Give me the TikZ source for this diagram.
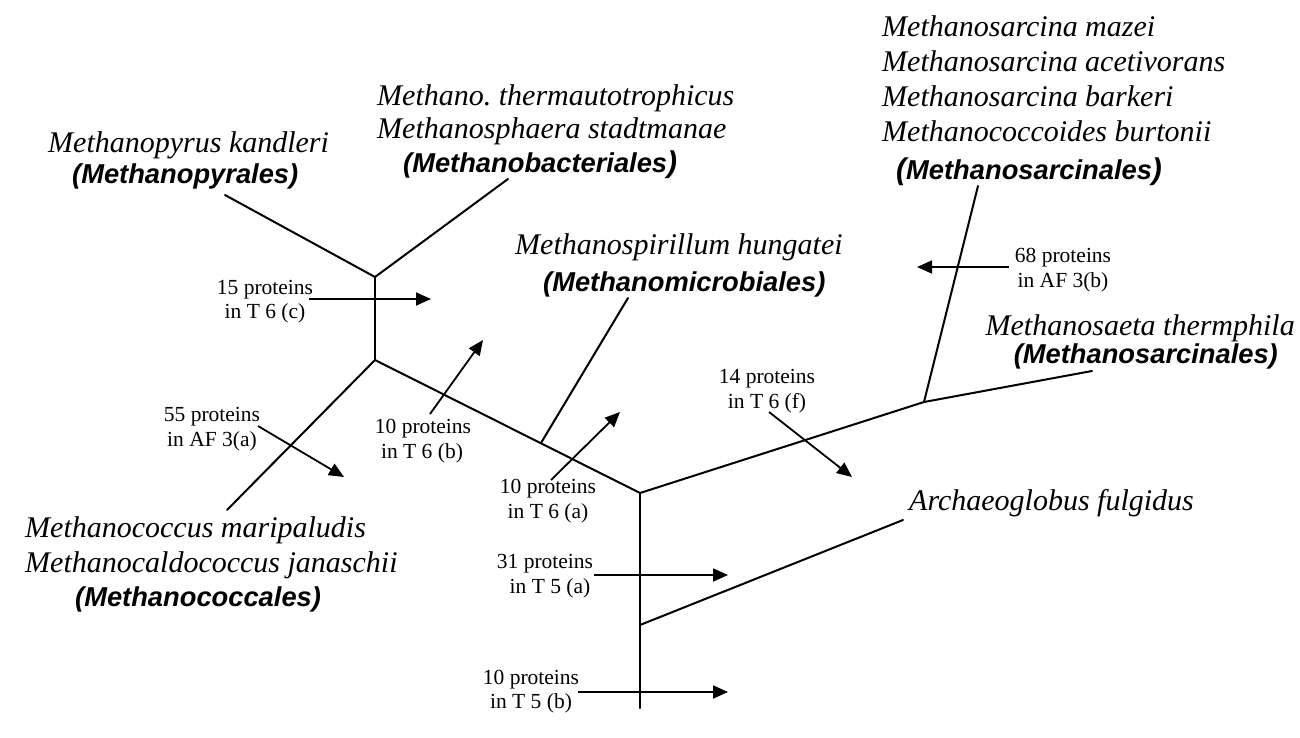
\documentclass[tikz,border=0pt]{standalone}
\usepackage{fontspec}
\setmainfont{Liberation Serif}
\newfontfamily\bsansfam{Liberation Sans}
\usetikzlibrary{arrows.meta}
\frenchspacing
\newcommand\mySp{\fontsize{30}{35}\selectfont\itshape}
\newcommand\myOrd{\fontsize{27.3}{32}\selectfont\bsansfam\bfseries\itshape}
\newcommand\myLbl{\fontsize{21.5}{25}\selectfont}
\tikzset{
  br/.style={line width=2pt, line cap=round},
  arr/.style={line width=1.8pt, -{Triangle[length=15pt,width=13pt]}},
  sp/.style={font=\mySp, inner sep=0pt},
  ord/.style={font=\myOrd, inner sep=0pt},
  lbl/.style={font=\myLbl, inner sep=0pt, anchor=base},
}
\begin{document}
\begin{tikzpicture}[x=1pt,y=-1pt]
\useasboundingbox[fill=white] (0,0) rectangle (1300,738);
% tree points
\coordinate (A) at (375,277);
\coordinate (B) at (375,360);
\coordinate (C) at (640,493);
\coordinate (D) at (541,443);
\coordinate (E) at (924,402);
\coordinate (F) at (640,625);
\coordinate (R) at (640,708);
\coordinate (lPyr) at (225,195);
\coordinate (lBac) at (508,179);
\coordinate (lCoc) at (227,510);
\coordinate (lMic) at (628,298);
\coordinate (lSar) at (978,186);
\coordinate (lSae) at (1092,371);
\coordinate (lArc) at (903,520);
% branches
\draw[br] (lPyr) -- (A) -- (lBac);
\draw[br] (A) -- (B);
\draw[br] (lCoc) -- (B) -- (C);
\draw[br] (D) -- (lMic);
\draw[br] (C) -- (E) -- (lSae);
\draw[br] (E) -- (lSar);
\draw[br] (C) -- (R);
\draw[br] (F) -- (lArc);
% species labels
\node[sp, anchor=base west] (t1) at (48,153) {Methanopyrus kandleri};
\node[ord, anchor=base west] (t2) at (72,184) {(Methanopyrales)};
\node[sp, anchor=base west] (t3) at (377,106) {Methano. thermautotrophicus};
\node[sp, anchor=base west] (t4) at (377,139) {Methanosphaera stadtmanae};
\node[ord, anchor=base west] (t5) at (403,173) {(Methanobacteriales{\mySp)}};
\node[sp, anchor=base west] (t6) at (882,37) {Methanosarcina mazei};
\node[sp, anchor=base west] (t7) at (882,72) {Methanosarcina acetivorans};
\node[sp, anchor=base west] (t8) at (882,107) {Methanosarcina barkeri};
\node[sp, anchor=base west] (t9) at (882,142) {Methanococcoides burtonii};
\node[ord, anchor=base west] (t10) at (896,179) {{\mySp(}Methanosarcinales{\mySp)}};
\node[sp, anchor=base west] (t11) at (515,254) {Methanospirillum hungatei};
\node[ord, anchor=base west] (t12) at (543,291) {(Methanomicrobiales)};
\node[sp, anchor=base east] (t13) at (1295,335) {Methanosaeta thermphila};
\node[ord, anchor=base east] (t14) at (1278,363) {(Methanosarcinales)};
\node[sp, anchor=base west] (t15) at (909,510) {Archaeoglobus fulgidus};
\node[sp, anchor=base west] (t16) at (25,537) {Methanococcus maripaludis};
\node[sp, anchor=base west] (t17) at (25,572) {Methanocaldococcus janaschii};
\node[ord, anchor=base west] (t18) at (75,606) {(Methanococcales)};
% protein labels
\node[lbl] (p1a) at (265,294) {15 proteins};
\node[lbl] (p1b) at (265,318) {in T 6 (c)};
\node[lbl] (p2a) at (212,421) {55 proteins};
\node[lbl] (p2b) at (212,446) {in AF 3(a)};
\node[lbl] (p3a) at (423,433) {10 proteins};
\node[lbl] (p3b) at (422,458) {in T 6 (b)};
\node[lbl] (p4a) at (548,493) {10 proteins};
\node[lbl] (p4b) at (548,518) {in T 6 (a)};
\node[lbl] (p5a) at (767,383) {14 proteins};
\node[lbl] (p5b) at (767,408) {in T 6 (f)};
\node[lbl] (p6a) at (1063,262) {68 proteins};
\node[lbl] (p6b) at (1063,287) {in AF 3(b)};
\node[lbl] (p7a) at (545,568) {31 proteins};
\node[lbl] (p7b) at (550,593) {in T 5 (a)};
\node[lbl] (p8a) at (531,684) {10 proteins};
\node[lbl] (p8b) at (531,708) {in T 5 (b)};
% arrow ends
\coordinate (s1) at (309,299); \coordinate (e1) at (431,299);
\coordinate (s2) at (258,426); \coordinate (e2) at (344,477);
\coordinate (s3) at (430,414); \coordinate (e3) at (483,340);
\coordinate (s4) at (551,480); \coordinate (e4) at (620,412);
\coordinate (s5) at (769,412); \coordinate (e5) at (852,477);
\coordinate (s6) at (1009,267); \coordinate (e6) at (917,267);
\coordinate (s7) at (594,575); \coordinate (e7) at (728,575);
\coordinate (s8) at (578,692); \coordinate (e8) at (728,692);
\draw[arr] (s1) -- (e1);
\draw[arr] (s2) -- (e2);
\draw[arr] (s3) -- (e3);
\draw[arr] (s4) -- (e4);
\draw[arr] (s5) -- (e5);
\draw[arr] (s6) -- (e6);
\draw[arr] (s7) -- (e7);
\draw[arr] (s8) -- (e8);
\end{tikzpicture}
\end{document}
